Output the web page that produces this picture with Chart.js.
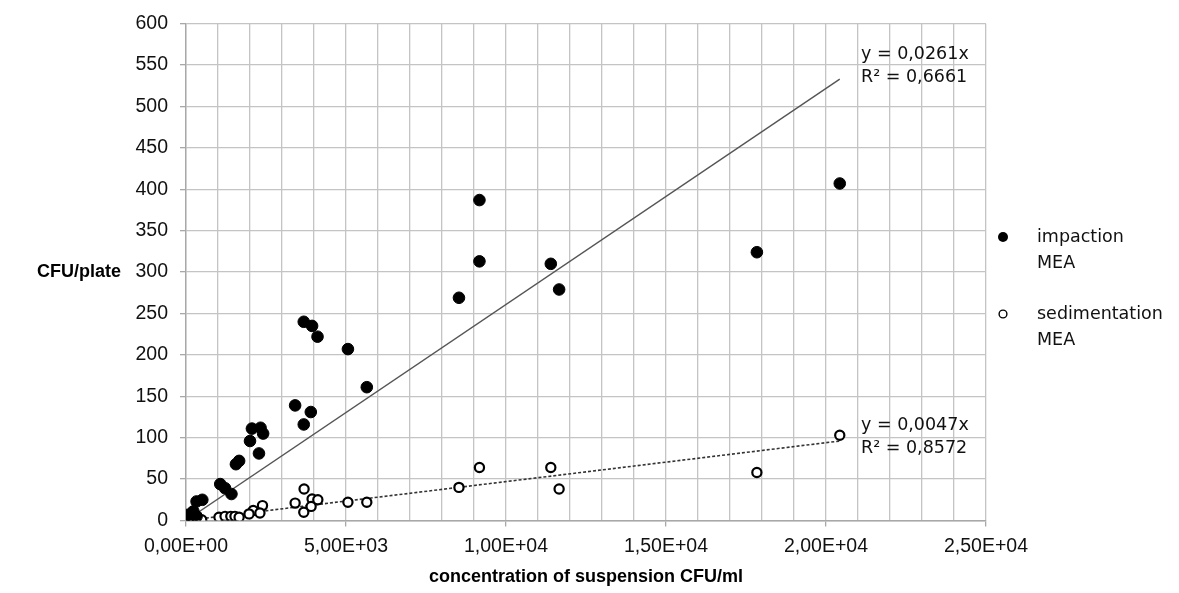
<!DOCTYPE html>
<html>
<head>
<meta charset="utf-8">
<script src="https://cdn.jsdelivr.net/npm/chart.js@4.4.1/dist/chart.umd.min.js"></script>
<style>
  html, body { margin: 0; padding: 0; background: #ffffff; }
  #wrap { width: 1179px; height: 593px; }
</style>
</head>
<body>
<div id="wrap"><canvas id="c" width="1179" height="593"></canvas></div>
<script>
// ---------- data ----------
const impactionX = [20430, 17840, 9170, 9170, 8530, 11400, 11660, 3680, 3940, 4110, 5060, 5650, 3410, 3900, 3680, 2060, 2330, 2410, 2000, 2280, 1560, 1660, 1070, 1220, 1420, 330, 510, 230, 70, 330, 150];
const impactionY = [407, 324, 387, 313, 269, 310, 279, 240, 235, 222, 207, 161, 139, 131, 116, 111, 112, 105, 96, 81, 68, 72, 44, 39, 32, 23, 25, 11, 7, 5, 3];

const sedimentationX = [20430, 17840, 9170, 8530, 11400, 11660, 3690, 3410, 3940, 4120, 3910, 3680, 5060, 5650, 2390, 2100, 2310, 1970, 1030, 1220, 1400, 1530, 1660, 70, 210, 330, 490];
const sedimentationY = [103, 58, 64, 40, 64, 38, 38, 21, 26, 25, 17, 10, 22, 22, 18, 12, 9, 8, 4, 5, 5, 5, 4, 1, 3, 3, 1];

// linear trend lines (through origin), endpoints as read
const trendImpactionX = [0, 20430];
const trendImpactionY = [0, 533];
const trendSedimentationX = [0, 20430];
const trendSedimentationY = [0, 96];

const seriesNames = [["impaction", "MEA"], ["sedimentation", "MEA"]];
const trendLabels = [["y = 0,0261x", "R\u00B2 = 0,6661"], ["y = 0,0047x", "R\u00B2 = 0,8572"]];

const xTickLabels = ["0,00E+00", "5,00E+03", "1,00E+04", "1,50E+04", "2,00E+04", "2,50E+04"];
const xTitle = "concentration of suspension CFU/ml";
const yTitle = "CFU/plate";

// ---------- helpers ----------
const zip = (xs, ys) => xs.map((x, i) => ({ x: x, y: ys[i] }));

const REG = "'Liberation Sans', Arial, sans-serif";
const WIDE = "'DejaVu Sans', 'Liberation Sans', sans-serif";
const GRID = "#c4c4c4";
const AXIS = "#a8a8a8";

const extras = {
  id: "extras",
  afterDraw(chart) {
    const ctx = chart.ctx;
    ctx.save();
    // y axis title (horizontal)
    ctx.fillStyle = "#000";
    ctx.font = "bold 18px " + REG;
    ctx.textAlign = "center";
    ctx.textBaseline = "middle";
    ctx.fillText(yTitle, 79, 272);

    // trend labels
    ctx.font = "17.5px " + WIDE;
    ctx.textAlign = "left";
    ctx.textBaseline = "alphabetic";
    ctx.fillStyle = "#111";
    ctx.fillText(trendLabels[0][0], 861, 59);
    ctx.fillText(trendLabels[0][1], 861, 82);
    ctx.fillText(trendLabels[1][0], 861, 430);
    ctx.fillText(trendLabels[1][1], 861, 453);

    // legend
    const d0 = chart.data.datasets[0], d1 = chart.data.datasets[1];
    ctx.beginPath();
    ctx.arc(1003, 237, 5, 0, Math.PI * 2);
    ctx.fillStyle = d0.backgroundColor;
    ctx.fill();
    ctx.beginPath();
    ctx.arc(1003, 314, 3.9, 0, Math.PI * 2);
    ctx.fillStyle = d1.backgroundColor;
    ctx.fill();
    ctx.lineWidth = 1.4;
    ctx.strokeStyle = d1.borderColor;
    ctx.stroke();

    ctx.fillStyle = "#111";
    ctx.font = "17.5px " + WIDE;
    ctx.fillText(seriesNames[0][0], 1037, 242);
    ctx.fillText(seriesNames[0][1], 1037, 268);
    ctx.fillText(seriesNames[1][0], 1037, 319);
    ctx.fillText(seriesNames[1][1], 1037, 345);
    ctx.restore();
  }
};

new Chart(document.getElementById("c"), {
  type: "scatter",
  data: {
    datasets: [
      {
        label: "impaction MEA",
        data: zip(impactionX, impactionY),
        backgroundColor: "#000000",
        borderColor: "#000000",
        borderWidth: 1,
        pointRadius: 5.8,
        order: 1
      },
      {
        label: "sedimentation MEA",
        data: zip(sedimentationX, sedimentationY),
        backgroundColor: "#ffffff",
        borderColor: "#000000",
        borderWidth: 2.2,
        pointRadius: 4.6,
        order: 2
      },
      {
        type: "line",
        label: "trend impaction",
        data: zip(trendImpactionX, trendImpactionY),
        borderColor: "#555555",
        borderWidth: 1.4,
        pointRadius: 0,
        fill: false,
        order: 3
      },
      {
        type: "line",
        label: "trend sedimentation",
        data: zip(trendSedimentationX, trendSedimentationY),
        borderColor: "#333333",
        borderWidth: 1.6,
        borderDash: [3, 2],
        pointRadius: 0,
        fill: false,
        order: 4
      }
    ]
  },
  options: {
    responsive: false,
    animation: false,
    events: [],
    layout: { padding: { left: 0, top: 23, right: 193, bottom: 0 } },
    plugins: { legend: { display: false }, tooltip: { enabled: false } },
    scales: {
      x: {
        type: "linear",
        min: 0,
        max: 25000,
        afterFit: (s) => { s.height = 72.5; },
        afterBuildTicks: (s) => {
          const t = [];
          for (let v = 0; v <= 25000; v += 1000) t.push({ value: v });
          s.ticks = t;
        },
        ticks: {
          autoSkip: false,
          maxRotation: 0,
          padding: 8,
          color: "#111",
          font: { family: REG, size: 19.5 },
          callback: (v) => (v % 5000 === 0 ? xTickLabels[v / 5000] : "")
        },
        grid: {
          color: GRID,
          lineWidth: 1.3,
          tickLength: 6,
          tickColor: (c) => (c.tick && c.tick.value % 5000 === 0 ? AXIS : "rgba(0,0,0,0)")
        },
        border: { color: AXIS, width: 1.4 },
        title: {
          display: true,
          text: xTitle,
          color: "#000",
          font: { family: REG, size: 18, weight: "bold" },
          padding: { top: 0, bottom: 5 }
        }
      },
      y: {
        type: "linear",
        min: 0,
        max: 600,
        afterFit: (s) => { s.width = 186; },
        ticks: {
          stepSize: 50,
          padding: 12,
          color: "#111",
          font: { family: REG, size: 19.5 }
        },
        grid: {
          color: GRID,
          lineWidth: 1.3,
          tickLength: 6,
          tickColor: AXIS
        },
        border: { color: AXIS, width: 1.4 }
      }
    }
  },
  plugins: [extras]
});
</script>
</body>
</html>
